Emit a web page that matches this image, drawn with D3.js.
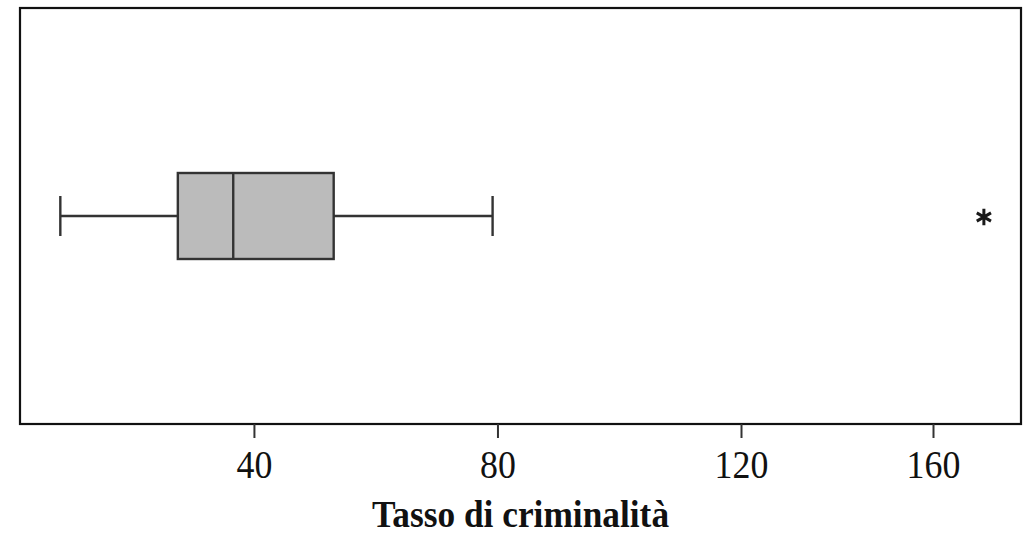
<!DOCTYPE html>
<html><head><meta charset="utf-8">
<script src="https://cdn.jsdelivr.net/npm/d3@7/dist/d3.min.js"></script>
<style>body{margin:0;background:#fff}</style>
</head><body>
<svg id="chart" width="1023" height="535"></svg>
<script>
// Data
const category = "Tasso di criminalità";
const boxStats = {min: 8.2, q1: 27.5, median: 36.6, q3: 53.1, max: 79.2};
const outliers = [170.6];
const tickValues = [40, 80, 120, 160];
const tickLabels = ["40", "80", "120", "160"];

const svg = d3.select("#chart");
const frame = {left: 20, right: 1021, top: 8, bottom: 424};

// The reference's axis is not uniform beyond 120, so use a piecewise linear scale
const x = d3.scaleLinear().domain([0, 120, 180]).range([10.4, 741, 1029]);
const y = d3.scaleBand().domain([category]).range([frame.top, frame.bottom]);
const yc = y(category) + y.bandwidth() / 2;
const boxH = 86, capH = 40;
const serif = "'Liberation Serif','Times New Roman',serif";

// Frame
svg.append("rect")
  .attr("x", frame.left).attr("y", frame.top)
  .attr("width", frame.right - frame.left).attr("height", frame.bottom - frame.top)
  .attr("fill", "none").attr("stroke", "#111").attr("stroke-width", 2.2);

// Axis
const axis = d3.axisBottom(x).tickValues(tickValues)
  .tickFormat((d, i) => tickLabels[i]).tickSize(14).tickSizeOuter(0).tickPadding(12);
const gx = svg.append("g").attr("transform", `translate(0,${frame.bottom})`).call(axis);
gx.select(".domain").remove();
gx.selectAll(".tick line").attr("stroke", "#333").attr("stroke-width", 2);
gx.selectAll(".tick text")
  .attr("font-family", serif).attr("font-size", 39).attr("fill", "#111")
  .attr("transform", "scale(0.92,1)");

// Whiskers
const g = svg.append("g").attr("stroke", "#333").attr("stroke-width", 2.4);
g.append("line").attr("x1", x(boxStats.min)).attr("x2", x(boxStats.q1)).attr("y1", yc).attr("y2", yc);
g.append("line").attr("x1", x(boxStats.q3)).attr("x2", x(boxStats.max)).attr("y1", yc).attr("y2", yc);
g.append("line").attr("x1", x(boxStats.min)).attr("x2", x(boxStats.min)).attr("y1", yc - capH/2).attr("y2", yc + capH/2);
g.append("line").attr("x1", x(boxStats.max)).attr("x2", x(boxStats.max)).attr("y1", yc - capH/2).attr("y2", yc + capH/2);
// Box
g.append("rect").attr("x", x(boxStats.q1)).attr("y", yc - boxH/2)
  .attr("width", x(boxStats.q3) - x(boxStats.q1)).attr("height", boxH)
  .attr("fill", "#bbbbbb");
g.append("line").attr("x1", x(boxStats.median)).attr("x2", x(boxStats.median))
  .attr("y1", yc - boxH/2).attr("y2", yc + boxH/2);

// Outliers
svg.selectAll(".out").data(outliers).join("path").attr("class", "out")
  .attr("transform", d => `translate(${x(d)},${yc + 1})`)
  .attr("d", d3.symbol(d3.symbolAsterisk, 190))
  .attr("fill", "none").attr("stroke", "#1a1a1a").attr("stroke-width", 3);

// Axis title
svg.append("g").attr("transform", "translate(520.5,527)")
  .append("text").attr("x", 0).attr("y", 0)
  .attr("text-anchor", "middle").attr("transform", "scale(0.93,1)")
  .attr("font-family", serif).attr("font-weight", "bold").attr("font-size", 38).attr("fill", "#111")
  .text(category);
</script>
</body></html>
